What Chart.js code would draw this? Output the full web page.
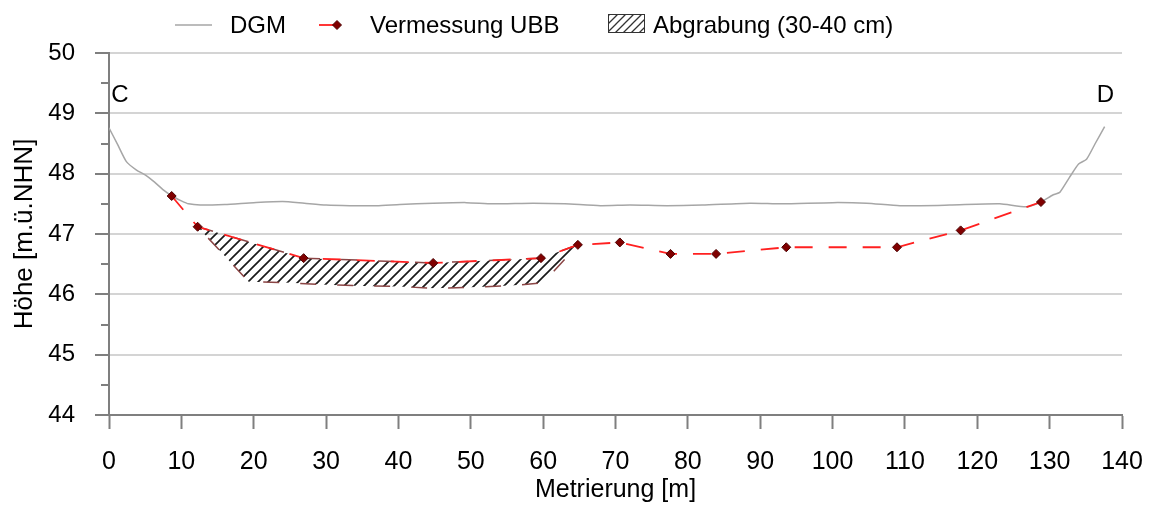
<!DOCTYPE html>
<html>
<head>
<meta charset="utf-8">
<script src="https://cdn.jsdelivr.net/npm/chart.js@4.4.1/dist/chart.umd.min.js"></script>
<style>
  html, body { margin: 0; padding: 0; background: #ffffff; }
  #wrap { width: 1149px; height: 505px; position: relative; }
</style>
</head>
<body>
<div id="wrap"><canvas id="profil" width="1149" height="505"></canvas></div>
<script>
// Querprofil C–D: Geländemodell, Vermessung und geplante Abgrabung
const dgmX = [0, 1.2, 2.4, 3.8, 5.0, 6.3, 7.5, 8.7, 10.0, 11.0, 12.6, 16.0, 20.0, 24.0, 27.0, 30.0, 33.3, 37.0, 40.2, 44.8, 49.4, 53.0, 58.6, 63.0, 67.9, 72.0, 77.1, 82.0, 88.6, 93.1, 100.0, 104.7, 109.3, 116.2, 123.1, 126.8, 128.8, 130.5, 131.4, 132.7, 134.0, 135.1, 136.3, 137.6];
const dgmY = [48.76, 48.48, 48.2, 48.06, 47.98, 47.86, 47.73, 47.63, 47.55, 47.5, 47.48, 47.49, 47.52, 47.54, 47.51, 47.48, 47.47, 47.47, 47.49, 47.51, 47.52, 47.5, 47.51, 47.5, 47.47, 47.48, 47.47, 47.48, 47.51, 47.5, 47.52, 47.51, 47.47, 47.48, 47.5, 47.45, 47.53, 47.65, 47.69, 47.93, 48.16, 48.24, 48.5, 48.78];

const ubbX = [8.66, 12.25, 26.9, 44.8, 59.7, 64.8, 70.6, 77.6, 83.9, 93.6, 108.9, 117.7, 128.8];
const ubbY = [47.63, 47.12, 46.6, 46.52, 46.6, 46.82, 46.86, 46.67, 46.67, 46.78, 46.78, 47.06, 47.53];

// Abgrabungsfläche als geschlossener Umriss: Oberkante entlang der Vermessung, Unterkante 30-40 cm tiefer
const abgrabungX = [12.25, 26.9, 44.8, 59.7, 64.8, 60.0, 56.0, 51.0, 45.0, 40.0, 35.0, 30.0, 25.0, 19.3, 12.25];
const abgrabungY = [47.12, 46.6, 46.52, 46.6, 46.82, 46.19, 46.15, 46.12, 46.10, 46.13, 46.14, 46.16, 46.19, 46.21, 47.12];

const xTickValues = [0, 10, 20, 30, 40, 50, 60, 70, 80, 90, 100, 110, 120, 130, 140];
const yTickValues = [44, 45, 46, 47, 48, 49, 50];
const yMinorTicks = [44.5, 45.5, 46.5, 47.5, 48.5, 49.5];

const seriesNames = ['DGM', 'Vermessung UBB', 'Abgrabung (30-40 cm)'];
const profileEnds = [
  { text: 'C', x: 0.3, y: 49.3, align: 'left' },
  { text: 'D', x: 138.9, y: 49.3, align: 'right' }
];

const FONT = 'Liberation Sans, Arial, Helvetica, sans-serif';

function makeHatch(step, lineWidth, color) {
  const c = document.createElement('canvas');
  c.width = step; c.height = step;
  const g = c.getContext('2d');
  g.strokeStyle = color;
  g.lineWidth = lineWidth;
  g.beginPath();
  g.moveTo(-2, step + 2); g.lineTo(step + 2, -2);
  g.moveTo(-2, 2); g.lineTo(2, -2);
  g.moveTo(step - 2, step + 2); g.lineTo(step + 2, step - 2);
  g.stroke();
  return document.createElement('canvas').getContext('2d').createPattern(c, 'repeat');
}

const hatchFill = makeHatch(10, 1.7, '#1a1a1a');
const hatchLegend = makeHatch(8, 1.3, '#333333');

const toPoints = (xs, ys) => xs.map((x, i) => ({ x: x, y: ys[i] }));

// Minor ticks on the height axis
const minorTicks = {
  id: 'minorTicks',
  afterDraw(chart) {
    const ctx = chart.ctx, y = chart.scales.y;
    ctx.save();
    ctx.strokeStyle = '#7f7f7f';
    ctx.lineWidth = 2;
    yMinorTicks.forEach(v => {
      const py = Math.round(y.getPixelForValue(v));
      ctx.beginPath();
      ctx.moveTo(y.right - 8, py);
      ctx.lineTo(y.right, py);
      ctx.stroke();
    });
    ctx.restore();
  }
};

// Profile end markers C and D
const endLabels = {
  id: 'endLabels',
  afterDatasetsDraw(chart) {
    const ctx = chart.ctx, sx = chart.scales.x, sy = chart.scales.y;
    ctx.save();
    ctx.font = '24px ' + FONT;
    ctx.fillStyle = '#000000';
    ctx.textBaseline = 'middle';
    profileEnds.forEach(p => {
      ctx.textAlign = p.align;
      ctx.fillText(p.text, sx.getPixelForValue(p.x), sy.getPixelForValue(p.y));
    });
    ctx.restore();
  }
};

// Legend row above the plot
const legendRow = {
  id: 'legendRow',
  afterDraw(chart) {
    const ctx = chart.ctx;
    const cy = 25;
    ctx.save();
    // DGM
    ctx.strokeStyle = '#a6a6a6';
    ctx.lineWidth = 1.5;
    ctx.beginPath(); ctx.moveTo(175, cy); ctx.lineTo(212, cy); ctx.stroke();
    // Vermessung UBB
    ctx.strokeStyle = '#ff2020';
    ctx.lineWidth = 1.8;
    ctx.beginPath(); ctx.moveTo(319, cy); ctx.lineTo(337, cy); ctx.stroke();
    ctx.fillStyle = '#800000';
    ctx.strokeStyle = '#4d0000';
    ctx.lineWidth = 1;
    ctx.beginPath();
    ctx.moveTo(337, cy - 4.5); ctx.lineTo(341.5, cy); ctx.lineTo(337, cy + 4.5); ctx.lineTo(332.5, cy);
    ctx.closePath(); ctx.fill(); ctx.stroke();
    // Abgrabung
    ctx.fillStyle = hatchLegend;
    ctx.fillRect(608, 14, 37, 19);
    ctx.strokeStyle = '#333333';
    ctx.lineWidth = 1;
    ctx.strokeRect(608.5, 14.5, 36, 18);
    // Texts
    ctx.font = '24px ' + FONT;
    ctx.fillStyle = '#000000';
    ctx.textAlign = 'left';
    ctx.textBaseline = 'middle';
    ctx.fillText(seriesNames[0], 230, cy + 1);
    ctx.fillText(seriesNames[1], 370, cy + 1);
    ctx.fillText(seriesNames[2], 653, cy + 1);
    ctx.restore();
  }
};

new Chart(document.getElementById('profil'), {
  type: 'scatter',
  data: {
    datasets: [
      {
        label: seriesNames[1],
        data: toPoints(ubbX, ubbY),
        showLine: true,
        borderColor: '#ff2020',
        borderWidth: 1.8,
        borderDash: [18, 16],
        pointStyle: 'rectRot',
        pointRadius: 4.5,
        pointBackgroundColor: '#800000',
        pointBorderColor: '#4d0000',
        pointBorderWidth: 1,
        fill: false,
        order: 0
      },
      {
        label: seriesNames[2],
        data: toPoints(abgrabungX, abgrabungY),
        showLine: true,
        borderColor: '#8b4545',
        borderWidth: 1.5,
        borderDash: [16, 21],
        backgroundColor: hatchFill,
        fill: 'shape',
        pointRadius: 0,
        order: 1
      },
      {
        label: seriesNames[0],
        data: toPoints(dgmX, dgmY),
        showLine: true,
        borderColor: '#a6a6a6',
        borderWidth: 1.5,
        tension: 0.2,
        pointRadius: 0,
        fill: false,
        order: 2
      }
    ]
  },
  options: {
    responsive: false,
    animation: false,
    devicePixelRatio: 1,
    layout: { padding: { top: 53, right: 27, left: 0, bottom: 0 } },
    plugins: {
      legend: { display: false },
      tooltip: { enabled: false }
    },
    scales: {
      x: {
        type: 'linear',
        position: 'bottom',
        min: 0,
        max: 140,
        afterBuildTicks: s => { s.ticks = xTickValues.map(v => ({ value: v })); },
        afterFit: s => { s.height = 90; s.paddingRight = 0; s.paddingLeft = 0; },
        grid: { drawOnChartArea: false, drawTicks: true, tickLength: 14, tickColor: '#7f7f7f', tickWidth: 2 },
        border: { color: '#7f7f7f', width: 2 },
        ticks: { color: '#000000', font: { family: FONT, size: 25 }, padding: 18, maxRotation: 0, autoSkip: false },
        title: { display: true, text: 'Metrierung [m]', color: '#000000', font: { family: FONT, size: 25 }, padding: { top: 0, bottom: 0 } }
      },
      y: {
        type: 'linear',
        position: 'left',
        min: 44,
        max: 50,
        afterBuildTicks: s => { s.ticks = yTickValues.map(v => ({ value: v })); },
        afterFit: s => { s.width = 109; },
        grid: { color: '#d4d4d4', lineWidth: 2, drawTicks: true, tickLength: 14, tickColor: '#7f7f7f', tickWidth: 2 },
        border: { color: '#7f7f7f', width: 2 },
        ticks: { color: '#000000', font: { family: FONT, size: 24 }, padding: 20 },
        title: { display: true, text: 'Höhe [m.ü.NHN]', color: '#000000', font: { family: FONT, size: 26 }, padding: { top: 9, bottom: 0 } }
      }
    }
  },
  plugins: [minorTicks, endLabels, legendRow]
});
</script>
</body>
</html>
